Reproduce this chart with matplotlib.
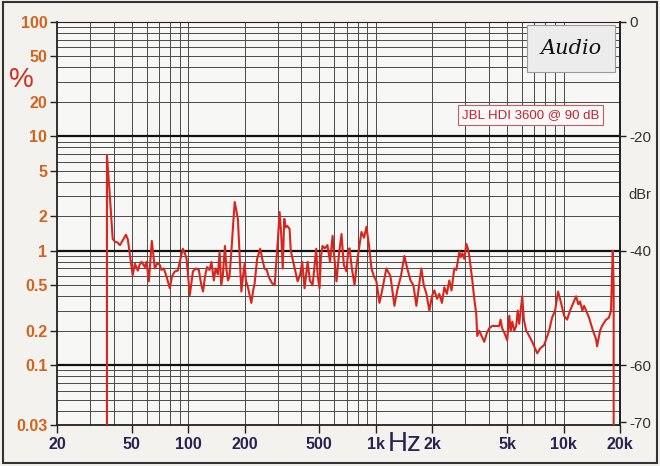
import numpy as np
import matplotlib.pyplot as plt
from matplotlib.patches import Rectangle
from matplotlib.ticker import FixedLocator, NullFormatter

plt.rcParams['font.family'] = ['Liberation Sans', 'DejaVu Sans']

# THD trace (Hz, %)
freq_hz = [36.9, 36.9, 38.0, 39.6, 40.7, 42.0, 43.3, 45.0, 46.6, 47.7, 49.0, 50.6, 52.0, 53.9, 55.0,
           56.4, 58.8, 60.0, 61.7, 64.0, 66.4, 68.5, 70.6, 72.0, 74.1, 77.0, 79.8, 82.0, 84.9, 88.0,
           91.0, 93.6, 96.0, 98.0, 102, 106, 110, 114, 117, 120, 123, 126, 130, 133, 137, 140, 144,
           147, 150, 153, 157, 160, 163, 166, 170, 174, 177, 180, 184, 188, 192, 196, 200, 203, 208,
           213, 217, 222, 226, 233, 242, 248, 255, 262, 270, 280, 289, 300, 307, 313, 319, 325, 330,
           337, 347, 352, 360, 370, 383, 395, 405, 417, 425, 433, 445, 460, 470, 481, 490, 501, 510,
           520, 535, 552, 570, 588, 600, 617, 635, 656, 675, 698, 712, 724, 745, 770, 790, 838, 865,
           891, 920, 948, 975, 1007, 1045, 1080, 1138, 1196, 1256, 1300, 1360, 1419, 1470, 1530, 1585,
           1644, 1700, 1748, 1800, 1860, 1928, 1990, 2050, 2120, 2178, 2250, 2318, 2390, 2462, 2530,
           2618, 2685, 2786, 2830, 2890, 2960, 3035, 3090, 3148, 3266, 3345, 3428, 3470, 3556, 3660,
           3782, 3900, 4020, 4170, 4376, 4540, 4620, 4710, 4850, 5012, 5140, 5230, 5332, 5460, 5598,
           5700, 5808, 6026, 6150, 6324, 6450, 6562, 6808, 7244, 7508, 7888, 8376, 8690, 9016, 9354,
           9706, 10070, 10448, 10840, 11112, 11668, 12000, 12252, 12600, 12876, 13678, 14356, 14894,
           15100, 15660, 16034, 16866, 17460, 17908, 18300, 18500, 18500]
thd_pct = [0.02, 6.8, 3.5, 1.27, 1.20, 1.18, 1.12, 1.25, 1.38, 1.25, 0.9, 0.61, 0.77, 0.67, 0.75,
           0.80, 0.72, 0.80, 0.54, 1.22, 0.70, 0.78, 0.75, 0.68, 0.70, 0.58, 0.47, 0.60, 0.66, 0.67,
           0.85, 1.04, 0.95, 0.85, 0.41, 0.66, 0.70, 0.68, 0.52, 0.44, 0.60, 0.72, 0.68, 0.80, 0.55,
           0.70, 0.62, 0.98, 0.50, 0.61, 1.10, 0.68, 0.55, 0.60, 1.00, 1.8, 2.67, 2.3, 1.90, 0.9,
           0.44, 0.60, 0.78, 0.55, 0.48, 0.40, 0.35, 0.45, 0.52, 0.85, 1.04, 0.85, 0.70, 0.68, 0.58,
           0.52, 0.50, 1.2, 2.18, 1.4, 0.70, 1.9, 1.60, 1.65, 1.55, 1.00, 0.85, 0.70, 0.54, 0.62,
           0.80, 0.47, 0.62, 0.80, 0.55, 0.50, 0.70, 1.04, 0.60, 0.47, 0.90, 1.10, 1.05, 1.12, 0.80,
           1.35, 0.90, 0.54, 0.90, 1.40, 0.75, 0.66, 1.00, 1.05, 0.70, 0.50, 0.75, 1.46, 1.30, 1.62,
           1.1, 0.70, 0.60, 0.54, 0.35, 0.45, 0.70, 0.60, 0.33, 0.45, 0.60, 0.90, 0.70, 0.55, 0.50,
           0.33, 0.50, 0.70, 0.50, 0.42, 0.30, 0.40, 0.45, 0.38, 0.42, 0.35, 0.48, 0.42, 0.55, 0.45,
           0.70, 0.68, 0.98, 0.88, 0.95, 0.85, 1.15, 1.05, 0.9, 0.55, 0.38, 0.28, 0.18, 0.20, 0.18,
           0.16, 0.19, 0.21, 0.22, 0.22, 0.22, 0.25, 0.21, 0.19, 0.165, 0.27, 0.20, 0.24, 0.20, 0.22,
           0.30, 0.23, 0.40, 0.25, 0.20, 0.19, 0.18, 0.16, 0.127, 0.14, 0.15, 0.20, 0.26, 0.30, 0.44,
           0.35, 0.27, 0.25, 0.30, 0.33, 0.40, 0.34, 0.36, 0.30, 0.33, 0.26, 0.20, 0.17,
           0.146, 0.20, 0.22, 0.25, 0.26, 0.30, 1.0, 0.5, 0.02]

y_labels = ['100', '50', '20', '10', '5', '2', '1', '0.5', '0.2', '0.1', '0.03']
y_vals = [100, 50, 20, 10, 5, 2, 1, 0.5, 0.2, 0.1, 0.03]
x_vals = [20, 50, 100, 200, 500, 1000, 2000, 5000, 10000, 20000]
x_labels = ['20', '50', '100', '200', '500', '1k', '2k', '5k', '10k', '20k']
db_vals = [0, -20, -40, -60, -70]

fig = plt.figure(figsize=(6.6, 4.66), dpi=100, facecolor='#f3f2ef')
ax = fig.add_axes([0.0864, 0.088, 0.853, 0.865])
ax.set_facecolor('#f7f7f5')
ax.set_xscale('log')
ax.set_yscale('log')
ax.set_xlim(20, 20000)
ax.set_ylim(0.03, 100)

# grid
minor_y = [m * 10.0 ** e for e in range(-2, 2) for m in range(2, 10) if 0.03 < m * 10.0 ** e < 100]
for v in minor_y:
    ax.axhline(v, color='#4a4a4a', lw=0.7, zorder=1)
for v in [0.1, 1, 10]:
    ax.axhline(v, color='#111111', lw=1.6, zorder=2)
minor_x = [m * 10.0 ** e for e in range(1, 5) for m in range(1, 10) if 20 < m * 10.0 ** e < 20000]
for v in minor_x:
    ax.axvline(v, color='#4a4a4a', lw=0.7, zorder=1)

ax.plot(freq_hz, thd_pct, color='#d8261e', lw=1.5, zorder=5)

for s in ax.spines.values():
    s.set_color('#222222')
    s.set_linewidth(1.3)
ax.spines['top'].set_linewidth(0.8)

ax.yaxis.set_major_locator(FixedLocator(y_vals))
ax.set_yticklabels(y_labels)
ax.yaxis.set_minor_locator(FixedLocator([]))
ax.yaxis.set_minor_formatter(NullFormatter())
ax.tick_params(axis='y', which='major', length=5, width=1.0, color='#222222',
               labelcolor='#d2641e', labelsize=11.5, pad=2)
for t in ax.get_yticklabels():
    t.set_fontweight('bold')
ax.xaxis.set_major_locator(FixedLocator(x_vals))
ax.set_xticklabels(x_labels)
ax.xaxis.set_minor_locator(FixedLocator([]))
ax.xaxis.set_minor_formatter(NullFormatter())
ax.tick_params(axis='x', which='major', length=6, width=1.0, color='#222222',
               labelcolor='#2a2350', labelsize=11.5, pad=3)
for t in ax.get_xticklabels():
    t.set_fontweight('bold')

ax2 = ax.twinx()
ax2.set_ylim(20 * np.log10(0.03 / 100), 0)
ax2.set_yticks(db_vals)
ax2.set_yticklabels([str(v) for v in db_vals])
ax2.tick_params(axis='y', length=4, width=1.0, color='#222222', labelcolor='#333333',
                labelsize=11, pad=3)
for s in ax2.spines.values():
    s.set_visible(False)
ax2.spines['right'].set_visible(True)
ax2.spines['right'].set_color('#222222')
ax2.spines['right'].set_linewidth(1.3)

fig.text(0.987, 0.582, 'dBr', ha='right', va='center', fontsize=10.5, color='#333333')
fig.text(0.033, 0.828, '%', ha='center', va='center', fontsize=20, color='#d03020')
fig.text(0.613, 0.048, 'Hz', ha='center', va='center', fontsize=20, color='#2a2350')

ax.text(0.913, 0.934, 'Audio', transform=ax.transAxes, ha='center', va='center',
        fontsize=15, style='italic', family='DejaVu Serif', color='#111111', zorder=7,
        bbox=dict(boxstyle='square,pad=0.65', facecolor='#ececec', edgecolor='#999999', lw=0.8))
ax.text(0.841, 0.769, 'JBL HDI 3600 @ 90 dB', transform=ax.transAxes, ha='center', va='center',
        fontsize=9.5, color='#c8202a', zorder=7,
        bbox=dict(boxstyle='square,pad=0.3', facecolor='#f8f8f8', edgecolor='#c06060', lw=0.8))

fig.patches.append(Rectangle((0.004, 0.006), 0.992, 0.99, transform=fig.transFigure,
                             fill=False, edgecolor='#333333', lw=1.5))

fig.savefig('out.png', dpi=100, facecolor=fig.get_facecolor())
